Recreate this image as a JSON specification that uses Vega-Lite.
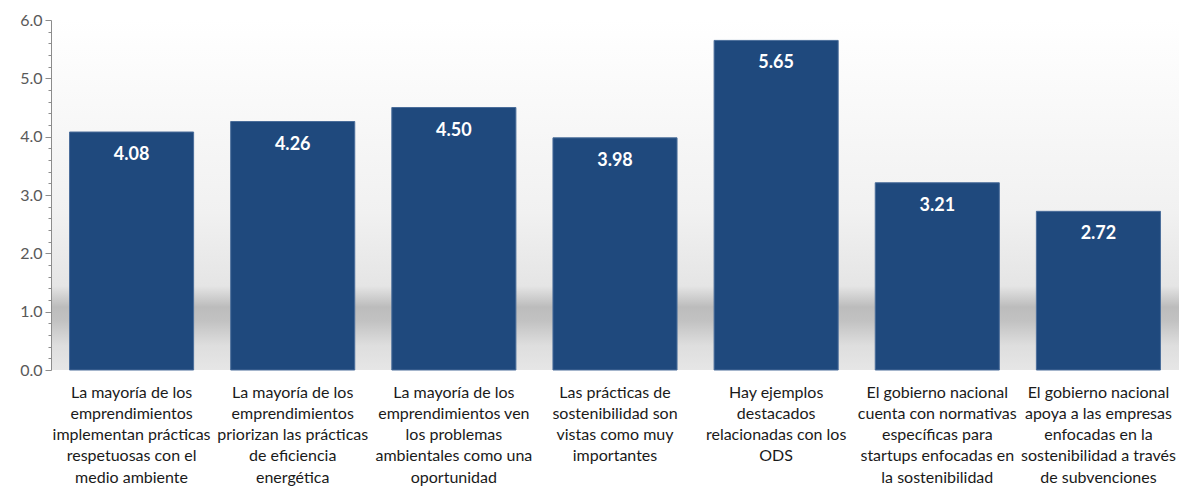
{
  "$schema": "https://vega.github.io/schema/vega-lite/v6.json",
  "autosize": {"type": "none"},
  "width": 1128,
  "height": 350,
  "padding": {"left": 51, "top": 20, "right": 2, "bottom": 117},
  "background": "#ffffff",
  "config": {
    "view": {
      "stroke": null,
      "fill": {
        "gradient": "linear",
        "x1": 0, "y1": 0, "x2": 0, "y2": 1,
        "stops": [
          {"offset": 0, "color": "#ffffff"},
          {"offset": 0.55, "color": "#f1f1f1"},
          {"offset": 0.76, "color": "#e5e5e5"},
          {"offset": 0.82, "color": "#bcbcbc"},
          {"offset": 0.86, "color": "#c2c2c2"},
          {"offset": 0.93, "color": "#dedede"},
          {"offset": 1, "color": "#e6e6e6"}
        ]
      }
    },
    "font": "Lato"
  },
  "data": {
    "values": [
      {"item": "La mayoría de los|emprendimientos|implementan prácticas|respetuosas con el|medio ambiente", "value": 4.08},
      {"item": "La mayoría de los|emprendimientos|priorizan las prácticas|de eficiencia|energética", "value": 4.26},
      {"item": "La mayoría de los|emprendimientos ven|los problemas|ambientales como una|oportunidad", "value": 4.50},
      {"item": "Las prácticas de|sostenibilidad son|vistas como muy|importantes", "value": 3.98},
      {"item": "Hay ejemplos|destacados|relacionadas con los|ODS", "value": 5.65},
      {"item": "El gobierno nacional|cuenta con normativas|específicas para|startups enfocadas en|la sostenibilidad", "value": 3.21},
      {"item": "El gobierno nacional|apoya a las empresas|enfocadas en la|sostenibilidad a través|de subvenciones", "value": 2.72}
    ]
  },
  "encoding": {
    "x": {
      "field": "item",
      "type": "nominal",
      "sort": null,
      "title": null,
      "scale": {"paddingInner": 0.23, "paddingOuter": 0.115},
      "axis": {
        "domain": false,
        "ticks": false,
        "labelAngle": 0,
        "labelExpr": "split(datum.label, '|')",
        "labelFont": "Lato",
        "labelFontSize": 16,
        "labelColor": "#1a1a1a",
        "labelLineHeight": 21.3,
        "labelPadding": 14,
        "labelBaseline": "top",
        "labelLimit": 200
      }
    },
    "y": {
      "field": "value",
      "type": "quantitative",
      "title": null,
      "scale": {"domain": [0, 6], "nice": false},
      "axis": {
        "grid": false,
        "ticks": true,
        "values": [0, 0.2, 0.4, 0.6, 0.8, 1, 1.2, 1.4, 1.6, 1.8, 2, 2.2, 2.4, 2.6, 2.8, 3, 3.2, 3.4, 3.6, 3.8, 4, 4.2, 4.4, 4.6, 4.8, 5, 5.2, 5.4, 5.6, 5.8, 6],
        "labelExpr": "abs(datum.value - round(datum.value)) < 0.001 ? format(datum.value, '.1f') : ''",
        "tickSize": {"condition": {"test": "abs(datum.value - round(datum.value)) < 0.001", "value": 6}, "value": 3},
        "tickWidth": 1,
        "domainColor": "#8c8c8c",
        "tickColor": "#8c8c8c",
        "labelColor": "#595959",
        "labelFont": "Lato",
        "labelFontSize": 16,
        "labelPadding": 3
      }
    }
  },
  "layer": [
    {
      "mark": {"type": "bar", "color": "#1f497d", "stroke": "#4a6d9a", "strokeWidth": 1}
    },
    {
      "mark": {"type": "text", "color": "#ffffff", "fontWeight": "bold", "fontSize": 18, "baseline": "middle", "dy": 23, "font": "Lato"},
      "encoding": {
        "text": {"field": "value", "type": "quantitative", "format": ".2f"}
      }
    }
  ]
}
